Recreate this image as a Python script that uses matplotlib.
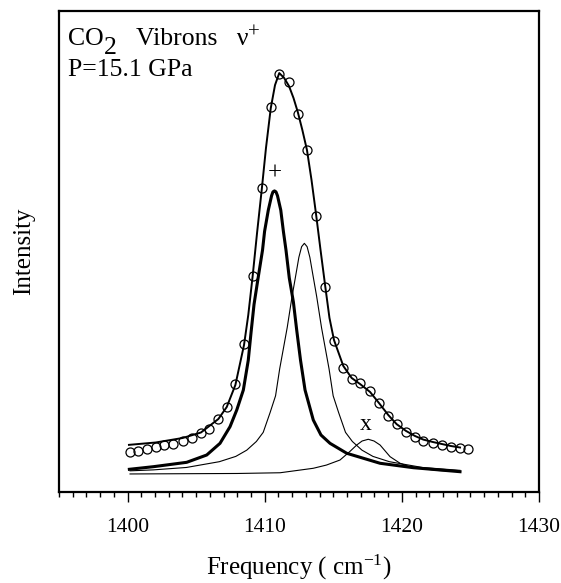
import matplotlib
matplotlib.use("Agg")
import matplotlib.pyplot as plt
from matplotlib.ticker import MultipleLocator

plt.rcParams['font.family'] = ['Liberation Serif', 'DejaVu Serif']
plt.rcParams['mathtext.fontset'] = 'custom'
plt.rcParams['mathtext.rm'] = 'Liberation Serif'
plt.rcParams['mathtext.it'] = 'Liberation Serif:italic'

# measured spectrum (open circles)
freq_obs = [1400.18, 1400.78, 1401.39, 1402.05, 1402.68, 1403.33, 1404.02, 1404.68, 1405.35, 1405.96,
            1406.62, 1407.23, 1407.86, 1408.49, 1409.12, 1409.78, 1410.44, 1411.06, 1411.77, 1412.41,
            1413.08, 1413.74, 1414.42, 1415.05, 1415.73, 1416.34, 1416.95, 1417.68, 1418.33, 1419.01,
            1419.62, 1420.30, 1420.96, 1421.56, 1422.25, 1422.91, 1423.58, 1424.24, 1424.85]
int_obs = [8.38, 8.59, 8.94, 9.36, 9.71, 9.98, 10.54, 11.16, 12.20, 13.16,
           15.11, 17.61, 22.39, 30.77, 44.97, 63.14, 80.04, 86.90, 85.24, 78.59,
           71.04, 57.44, 42.62, 31.39, 25.84, 23.43, 22.72, 21.00, 18.44, 15.80,
           14.07, 12.47, 11.37, 10.67, 10.25, 9.83, 9.42, 9.09, 8.88]

# total fit
fit_freq = [1400.10, 1402.05, 1404.02, 1405.35, 1406.62, 1407.23, 1407.86, 1408.49, 1408.80, 1409.12,
            1409.44, 1409.78, 1410.09, 1410.44, 1410.75, 1411.06, 1411.41, 1411.77, 1412.10, 1412.41,
            1412.74, 1413.08, 1413.41, 1413.74, 1414.07, 1414.42, 1414.72, 1415.05, 1415.73, 1416.34,
            1416.95, 1417.68, 1418.33, 1419.01, 1419.62, 1420.30, 1420.96, 1421.56, 1422.25, 1422.91,
            1423.58, 1424.24]
fit_int = [9.80, 10.29, 11.23, 12.37, 15.18, 17.67, 22.25, 30.56, 36.8, 44.9,
           53.85, 62.8, 71.5, 79.8, 84.6, 87.1, 86.1, 84.4, 81.9, 79.0,
           75.3, 71.1, 64.9, 57.8, 50.3, 42.6, 36.2, 31.6, 26.2, 23.7,
           22.45, 20.8, 18.5, 16.0, 14.1, 12.7, 11.64, 10.9, 10.4, 9.98,
           9.56, 9.25]

# component "+" (thick)
plus_freq = [1400.13, 1401.88, 1404.31, 1405.77, 1406.74, 1407.47, 1407.96, 1408.44, 1408.80, 1409.00,
             1409.22, 1409.49, 1409.84, 1409.99, 1410.26, 1410.50, 1410.60, 1410.71, 1410.82, 1410.93,
             1411.17, 1411.36, 1411.55, 1411.79, 1412.09, 1412.33, 1412.61, 1412.94, 1413.54, 1414.10,
             1414.76, 1415.98, 1418.41, 1420.84, 1424.24]
plus_int = [4.72, 5.26, 6.17, 7.69, 10.12, 13.58, 17.05, 21.2, 27.4, 33.1,
            39.0, 44.0, 50.3, 54.2, 58.6, 61.6, 62.4, 62.6, 62.4, 61.6,
            58.6, 54.2, 50.3, 44.5, 39.5, 33.7, 27.4, 21.2, 14.97, 11.85,
            10.12, 8.05, 5.97, 5.05, 4.22]

# main thin component
mid_freq = [1400.18, 1401.89, 1404.29, 1406.69, 1407.89, 1408.69, 1409.39, 1409.89, 1410.39, 1410.79,
            1411.09, 1411.34, 1411.64, 1411.99, 1412.29, 1412.49, 1412.69, 1412.89, 1413.09, 1413.29,
            1413.49, 1413.79, 1414.14, 1414.44, 1414.69, 1414.99, 1415.39, 1415.89, 1416.39, 1417.09,
            1417.89, 1419.09, 1421.49, 1424.24]
mid_int = [4.4, 4.6, 5.1, 6.3, 7.4, 8.7, 10.5, 12.4, 16.5, 20.0,
           25.6, 29.5, 34.2, 40.6, 45.5, 48.8, 51.0, 51.7, 51.0, 48.8,
           45.5, 40.6, 34.2, 29.5, 25.6, 20.0, 16.5, 12.4, 10.5, 8.7,
           7.4, 6.3, 5.1, 4.5]

# component "x" (small)
x_freq = [1400.18, 1404.00, 1408.00, 1411.12, 1413.54, 1414.50, 1415.49, 1416.20, 1416.71, 1417.10,
          1417.55, 1417.97, 1418.41, 1419.14, 1419.87, 1420.50, 1421.32, 1422.50, 1424.24]
x_int = [3.75, 3.80, 3.85, 4.00, 4.93, 5.60, 6.65, 8.40, 9.77, 10.60,
         10.96, 10.60, 9.77, 7.34, 5.97, 5.30, 4.93, 4.50, 4.22]

fig = plt.figure(figsize=(5.61, 5.83), dpi=100)
ax = fig.add_axes([0.1052, 0.1561, 0.8556, 0.8250])

ax.plot(mid_freq, mid_int, color='black', lw=0.8)
ax.plot(x_freq, x_int, color='black', lw=0.8)
ax.plot(plus_freq, plus_int, color='black', lw=2.2)
ax.plot(fit_freq, fit_int, color='black', lw=1.4)
ax.plot(freq_obs, int_obs, 'o', mfc='none', mec='black', ms=6.5, mew=0.9)

ax.set_xlim(1395, 1430)
ax.set_ylim(0, 100)
ax.xaxis.set_major_locator(MultipleLocator(10))
ax.xaxis.set_minor_locator(MultipleLocator(1))
ax.tick_params(axis='x', which='major', direction='out', length=7, width=1.0,
               labelsize=15.5, pad=12)
ax.tick_params(axis='x', which='minor', direction='out', length=3.5, width=1.0)
ax.set_yticks([])
for s in ax.spines.values():
    s.set_linewidth(1.6)

ax.set_xlabel('Frequency ( cm$^{-1}$)', fontsize=18, labelpad=11)
ax.set_ylabel('Intensity', fontsize=18)
ax.yaxis.set_label_coords(-0.05, 0.5)

# title lines: "CO" with a full-size, lowered "2", then "Vibrons  v+"
t1 = ax.text(0.019, 0.929, 'CO', transform=ax.transAxes,
             fontsize=18.5, va='baseline', ha='left')
t2 = ax.annotate('2', xy=(1, 0), xycoords=t1, xytext=(0, -6.5),
                 textcoords='offset points', fontsize=18.5, va='bottom', ha='left')
t3 = ax.annotate('   Vibrons   ν', xy=(1, 0), xycoords=t2, xytext=(0, 6.5),
                 textcoords='offset points', fontsize=18.5, va='bottom', ha='left')
ax.annotate('+', xy=(1, 0), xycoords=t3, xytext=(0, 5.5),
            textcoords='offset points', fontsize=15, va='bottom', ha='left')
ax.text(0.019, 0.864, 'P=15.1 GPa', transform=ax.transAxes,
        fontsize=18.5, va='baseline', ha='left')
ax.text(1410.70, 66.3, '+', fontsize=18, ha='center', va='center')
ax.text(1417.39, 14.1, 'x', fontsize=17, ha='center', va='center')

fig.savefig('out.png', dpi=100)
